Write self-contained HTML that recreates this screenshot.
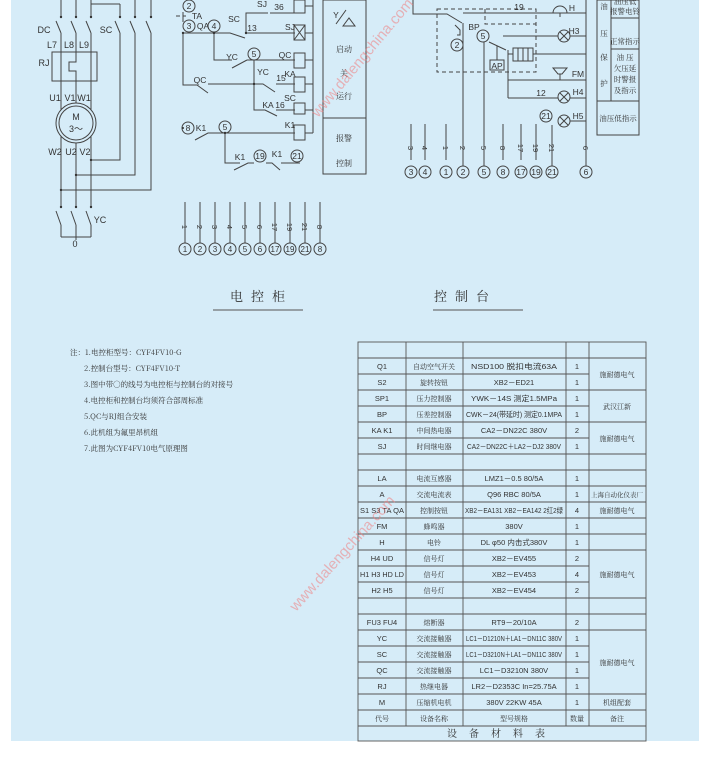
<!DOCTYPE html>
<html><head><meta charset="utf-8">
<style>
html,body{margin:0;padding:0;background:#fff;}
svg{display:block;}
text{font-family:"Liberation Sans","Noto Sans CJK SC",sans-serif;fill:#333;}
.z{font-family:"Noto Serif CJK SC","Noto Sans CJK SC",serif;}
</style></head><body>
<svg width="710" height="760" viewBox="0 0 710 760" xmlns="http://www.w3.org/2000/svg">
<rect x="0" y="0" width="710" height="760" fill="#fff"/>
<rect x="11" y="0" width="688" height="741" fill="#d6ecf8"/>
<g stroke="#444" stroke-width="1" fill="none">
<path d="M61 0V17M76 0V17M91 0V17M91 4H120M120 4V17M135 0V17M151 0V17"/>
<path d="M56 21L61 33M71 21L76 33M86 21L91 33M115 21L120 33M130 21L135 33M146 21L151 33"/>
<path d="M61 33V207M76 33V52M76 81V207M91 33V207"/>
<rect x="52" y="52" width="45" height="29"/>
<path d="M76 52V62H69V71H76V81"/>
<circle cx="76" cy="123" r="20" fill="#d6ecf8"/><circle cx="76" cy="123" r="17"/>
<path d="M120 33V160H91M135 33V175H76M151 33V190H61"/>
<path d="M56 211L61 225M71 211L76 225M86 211L91 225M61 225V237M76 225V237M91 225V237M61 237H91M76 237V240"/>
</g>
<g fill="#333"><circle cx="61" cy="17" r="1.2"/><circle cx="76" cy="17" r="1.2"/><circle cx="91" cy="17" r="1.2"/><circle cx="120" cy="17" r="1.2"/><circle cx="135" cy="17" r="1.2"/><circle cx="151" cy="17" r="1.2"/>
<circle cx="91" cy="160" r="1.2"/><circle cx="76" cy="175" r="1.2"/><circle cx="61" cy="190" r="1.2"/><circle cx="61" cy="207" r="1.2"/><circle cx="76" cy="207" r="1.2"/><circle cx="91" cy="207" r="1.2"/></g>
<g font-size="9" text-anchor="middle">
<text x="44" y="33">DC</text><text x="106" y="33">SC</text>
<text x="52" y="48">L7</text><text x="69" y="48">L8</text><text x="84" y="48">L9</text>
<text x="44" y="66">RJ</text>
<text x="55" y="101">U1</text><text x="70" y="101">V1</text><text x="84" y="101">W1</text>
<text x="76" y="120">M</text><text x="76" y="132">3～</text>
<text x="55" y="155">W2</text><text x="71" y="155">U2</text><text x="85" y="155">V2</text>
<text x="100" y="223">YC</text><text x="75" y="247">0</text>
</g>
<g stroke="#444" stroke-width="1" fill="none">
<circle cx="189" cy="6" r="6"/><circle cx="189" cy="26" r="6"/><circle cx="214" cy="26" r="6"/>
<path d="M183 12V22M176 16H180M183 16H186"/>
<path d="M183 33V85H197L208 93"/>
<path d="M183 33H214M214 33H230L245 38M246 33H295M246 33V13H258L268 13M270 13H295"/>
<path d="M214 33V60H232M247 60L232 68M247 60H295"/>
<circle cx="254" cy="54" r="6"/>
<path d="M208 84H263L275 92M276 84H295M254 60V110H265L277 116M276 110H295"/>
<circle cx="188" cy="128" r="6"/><circle cx="225" cy="127" r="6"/>
<path d="M195 140L208 133H295M225 133V163H240M234 170L248 163H254"/>
<circle cx="260" cy="156" r="6"/><circle cx="297" cy="156" r="6"/>
<path d="M266 163H272L280 170M281 163H300"/>
<rect x="294" y="0" width="11" height="13"/><rect x="294" y="25" width="11" height="15"/><path d="M294 40L305 25M294 25L305 40"/>
<rect x="294" y="53" width="11" height="15"/><rect x="294" y="77" width="11" height="15"/><rect x="294" y="103" width="11" height="11"/><rect x="294" y="125" width="11" height="15"/>
<path d="M305 6H313M305 33H313M305 60H313M305 84H313M305 110H313M305 133H313M313 0V133"/>
<rect x="323" y="0" width="43" height="174"/><path d="M323 118H366"/>
<path d="M336 24L346 10M343 26L349 18L355 26Z"/>
</g>
<g fill="#333"><circle cx="183" cy="33" r="1.2"/><circle cx="214" cy="33" r="1.2"/><circle cx="246" cy="33" r="1.2"/><circle cx="254" cy="84" r="1.2"/><circle cx="225" cy="133" r="1.2"/><circle cx="183" cy="128" r="1"/></g>
<g font-size="8.5" text-anchor="middle">
<text x="189" y="9">2</text><text x="189" y="29">3</text><text x="214" y="29">4</text><text x="197" y="19">TA</text><text x="203" y="29">QA</text>
<text x="234" y="22">SC</text><text x="252" y="31">13</text><text x="262" y="7">SJ</text><text x="279" y="10">36</text>
<text x="290" y="30">SJ</text><text x="232" y="60">YC</text><text x="254" y="57">5</text><text x="285" y="58">QC</text>
<text x="200" y="83">QC</text><text x="263" y="75">YC</text><text x="281" y="81">15</text><text x="290" y="77">KA</text>
<text x="268" y="108">KA</text><text x="280" y="108">16</text><text x="290" y="101">SC</text>
<text x="188" y="131">8</text><text x="201" y="131">K1</text><text x="225" y="130">5</text><text x="290" y="128">K1</text>
<text x="240" y="160">K1</text><text x="260" y="159">19</text><text x="277" y="157">K1</text><text x="297" y="159">21</text>
<text x="336" y="18" font-family="Liberation Serif">Y</text>
</g>
<g font-size="8" text-anchor="middle" fill="#555">
<text x="344" y="52" class="z">启动</text><text x="344" y="76" class="z">关</text><text x="344" y="99" class="z">运行</text>
<text x="344" y="141" class="z">报警</text><text x="344" y="166" class="z">控制</text>
</g>
<g stroke="#444" fill="none"><path d="M185 202V243M200 202V243M215 202V243M230 202V243M245 202V243M260 202V243M275 202V243M290 202V243M305 202V243M320 202V243"/>
<circle cx="185" cy="249" r="6"/><circle cx="200" cy="249" r="6"/><circle cx="215" cy="249" r="6"/><circle cx="230" cy="249" r="6"/><circle cx="245" cy="249" r="6"/><circle cx="260" cy="249" r="6"/><circle cx="275" cy="249" r="6"/><circle cx="290" cy="249" r="6"/><circle cx="305" cy="249" r="6"/><circle cx="320" cy="249" r="6"/></g>
<g font-size="8" text-anchor="middle">
<text x="185" y="252">1</text><text x="200" y="252">2</text><text x="215" y="252">3</text><text x="230" y="252">4</text><text x="245" y="252">5</text><text x="260" y="252">6</text><text x="275" y="252">17</text><text x="290" y="252">19</text><text x="305" y="252">21</text><text x="320" y="252">8</text>
<g font-size="7.5"><text transform="translate(182,227) rotate(90)">1</text><text transform="translate(197,227) rotate(90)">2</text><text transform="translate(212,227) rotate(90)">3</text><text transform="translate(227,227) rotate(90)">4</text><text transform="translate(242,227) rotate(90)">5</text><text transform="translate(257,227) rotate(90)">6</text><text transform="translate(272,227) rotate(90)">17</text><text transform="translate(287,227) rotate(90)">19</text><text transform="translate(302,227) rotate(90)">21</text><text transform="translate(317,227) rotate(90)">8</text></g>
</g>
<g stroke="#444" fill="none">
<path d="M413 0V14H447L462 23M463 23V166"/>
<path d="M437 9H536V72H437Z" stroke-dasharray="4,3"/>
<path d="M485 9V24H536" stroke-dasharray="4,3"/>
<path d="M455 25L460 30V35H457" />
<circle cx="457" cy="45" r="6"/>
<path d="M463 13H555M565 13H586"/>
<path d="M553 13A7 7 0 0 1 567 13Z M560 13V17"/>
<circle cx="483" cy="36" r="6"/><path d="M484 42V166"/>
<path d="M503 36H558M570 36H586"/><circle cx="564" cy="36" r="6"/><path d="M560 32L568 40M568 32L560 40"/>
<path d="M489 42L506 50M497 46V60"/><rect x="490" y="60" width="14" height="10"/>
<path d="M508 50V98"/><rect x="513" y="48" width="20" height="13"/><path d="M518 48V61M523 48V61M528 48V61M508 54H513M533 54H586"/>
<path d="M553 68H567L562 74H558Z M560 74V80M508 80H586"/>
<path d="M508 98H558M570 98H586"/><circle cx="564" cy="97" r="6"/><path d="M560 93L568 101M568 93L560 101"/>
<circle cx="564" cy="121" r="6"/><path d="M560 117L568 125M568 117L560 125M570 121H586"/>
<circle cx="546" cy="116" r="6"/><path d="M552 125V166M586 0V166"/>
<rect x="597" y="0" width="42" height="135"/><path d="M611 0V101M611 18H639M611 49H639M597 101H639"/>
<path d="M411 124V160M425 124V160M446 124V160M503 124V160M521 124V160M536 124V160"/>
<circle cx="411" cy="172" r="6"/><circle cx="425" cy="172" r="6"/><circle cx="446" cy="172" r="6"/><circle cx="463" cy="172" r="6"/><circle cx="484" cy="172" r="6"/><circle cx="503" cy="172" r="6"/><circle cx="521" cy="172" r="6"/><circle cx="536" cy="172" r="6"/><circle cx="552" cy="172" r="6"/><circle cx="586" cy="172" r="6"/>
</g>
<g font-size="8.5" text-anchor="middle">
<text x="519" y="10">19</text><text x="572" y="11">H</text><text x="457" y="48">2</text><text x="474" y="30">BP</text><text x="483" y="39">5</text>
<text x="574" y="34">H3</text><text x="497" y="69" font-family="Liberation Serif">AP</text><text x="578" y="77">FM</text>
<text x="541" y="96">12</text><text x="578" y="95">H4</text><text x="546" y="119">21</text><text x="578" y="119">H5</text>
<text x="411" y="175">3</text><text x="425" y="175">4</text><text x="446" y="175">1</text><text x="463" y="175">2</text><text x="484" y="175">5</text><text x="503" y="175">8</text><text x="521" y="175">17</text><text x="536" y="175">19</text><text x="552" y="175">21</text><text x="586" y="175">6</text>
<g font-size="7.5"><text transform="translate(408,148) rotate(90)">3</text><text transform="translate(422,148) rotate(90)">4</text><text transform="translate(443,148) rotate(90)">1</text><text transform="translate(460,148) rotate(90)">2</text><text transform="translate(481,148) rotate(90)">5</text><text transform="translate(500,148) rotate(90)">8</text><text transform="translate(518,148) rotate(90)">17</text><text transform="translate(533,148) rotate(90)">19</text><text transform="translate(549,148) rotate(90)">21</text><text transform="translate(583,148) rotate(90)">6</text></g>
</g>
<g font-size="7.5" text-anchor="middle" fill="#555">
<text x="604" y="9" class="z">油</text><text x="604" y="36" class="z">压</text><text x="604" y="60" class="z">保</text><text x="604" y="86" class="z">护</text>
<text x="625" y="4" class="z">油压低</text><text x="625" y="14" class="z">报警电铃</text>
<text x="625" y="44" class="z">正常指示</text>
<text x="625" y="60" class="z">油 压</text><text x="625" y="71" class="z">欠压延</text><text x="625" y="82" class="z">时警报</text><text x="625" y="93" class="z">及指示</text>
<text x="618" y="121" class="z">油压低指示</text>
</g>
<g font-size="13" fill="#444"><text x="230" y="301" class="z" letter-spacing="8">电控柜</text><text x="434" y="301" class="z" letter-spacing="8">控制台</text></g>
<path d="M213 310H303M433 310H523" stroke="#555"/>
<g font-size="7.5" fill="#444">
<text x="70" y="355" class="z">注：1.电控柜型号：CYF4FV10-G</text>
<text x="84" y="371" class="z">2.控制台型号：CYF4FV10-T</text>
<text x="84" y="387" class="z">3.图中带○的线号为电控柜与控制台的对接号</text>
<text x="84" y="403" class="z">4.电控柜和控制台均须符合部周标准</text>
<text x="84" y="419" class="z">5.QC与RJ组合安装</text>
<text x="84" y="435" class="z">6.此机组为氟里昂机组</text>
<text x="84" y="451" class="z">7.此图为CYF4FV10电气原理图</text>
</g>
<g stroke="#555" fill="none" stroke-width="0.9">
<rect x="358" y="342" width="288" height="399"/>
<path d="M406 342V726M463 342V726M566 342V726M589 342V726"/>
<path d="M358 358H589M358 374H589M358 390H589M358 406H589M358 422H589M358 438H589M358 454H589M358 470H589M358 486H589M358 502H589M358 518H589M358 534H589M358 550H589M358 566H589M358 582H589M358 598H589M358 614H589M358 630H589M358 646H589M358 662H589M358 678H589M358 694H589M358 710H589M358 726H646"/>
<path d="M589 358H646M589 390H646M589 422H646M589 454H646M589 470H646M589 486H646M589 502H646M589 518H646M589 534H646M589 550H646M589 598H646M589 614H646M589 630H646M589 694H646M589 710H646"/>
</g>
<g font-size="7.5" text-anchor="middle">
<text x="382" y="369">Q1</text><text x="434" y="369" class="z" font-size="7">自动空气开关</text><text x="514" y="369" textLength="86" lengthAdjust="spacingAndGlyphs">NSD100 脱扣电流63A</text><text x="577" y="369">1</text>
<text x="382" y="385">S2</text><text x="434" y="385" class="z" font-size="7">旋转按钮</text><text x="514" y="385">XB2－ED21</text><text x="577" y="385">1</text>
<text x="382" y="401">SP1</text><text x="434" y="401" class="z" font-size="7">压力控制器</text><text x="514" y="401" textLength="86" lengthAdjust="spacingAndGlyphs">YWK－14S 测定1.5MPa</text><text x="577" y="401">1</text>
<text x="382" y="417">BP</text><text x="434" y="417" class="z" font-size="7">压差控制器</text><text x="514" y="417" textLength="96" lengthAdjust="spacingAndGlyphs">CWK－24(带延时) 测定0.1MPA</text><text x="577" y="417">1</text>
<text x="382" y="433">KA  K1</text><text x="434" y="433" class="z" font-size="7">中间热电器</text><text x="514" y="433">CA2－DN22C 380V</text><text x="577" y="433">2</text>
<text x="382" y="449">SJ</text><text x="434" y="449" class="z" font-size="7">时间继电器</text><text x="514" y="449" textLength="94" lengthAdjust="spacingAndGlyphs">CA2－DN22C＋LA2－DJ2 380V</text><text x="577" y="449">1</text>
<text x="382" y="481">LA</text><text x="434" y="481" class="z" font-size="7">电流互感器</text><text x="514" y="481">LMZ1－0.5  80/5A</text><text x="577" y="481">1</text>
<text x="382" y="497">A</text><text x="434" y="497" class="z" font-size="7">交流电流表</text><text x="514" y="497">Q96 RBC 80/5A</text><text x="577" y="497">1</text>
<text x="382" y="513" textLength="44" lengthAdjust="spacingAndGlyphs">S1 S3 TA QA</text><text x="434" y="513" class="z" font-size="7">控制按钮</text><text x="514" y="513" textLength="98" lengthAdjust="spacingAndGlyphs">XB2－EA131 XB2－EA142 2红2绿</text><text x="577" y="513">4</text>
<text x="382" y="529">FM</text><text x="434" y="529" class="z" font-size="7">蜂鸣器</text><text x="514" y="529">380V</text><text x="577" y="529">1</text>
<text x="382" y="545">H</text><text x="434" y="545" class="z" font-size="7">电铃</text><text x="514" y="545">DL φ50 内击式380V</text><text x="577" y="545">1</text>
<text x="382" y="561">H4  UD</text><text x="434" y="561" class="z" font-size="7">信号灯</text><text x="514" y="561">XB2－EV455</text><text x="577" y="561">2</text>
<text x="382" y="577" textLength="44" lengthAdjust="spacingAndGlyphs">H1 H3 HD LD</text><text x="434" y="577" class="z" font-size="7">信号灯</text><text x="514" y="577">XB2－EV453</text><text x="577" y="577">4</text>
<text x="382" y="593">H2  H5</text><text x="434" y="593" class="z" font-size="7">信号灯</text><text x="514" y="593">XB2－EV454</text><text x="577" y="593">2</text>
<text x="382" y="625">FU3  FU4</text><text x="434" y="625" class="z" font-size="7">熔断器</text><text x="514" y="625">RT9－20/10A</text><text x="577" y="625">2</text>
<text x="382" y="641">YC</text><text x="434" y="641" class="z" font-size="7">交流接触器</text><text x="514" y="641" textLength="96" lengthAdjust="spacingAndGlyphs">LC1－D1210N＋LA1－DN11C 380V</text><text x="577" y="641">1</text>
<text x="382" y="657">SC</text><text x="434" y="657" class="z" font-size="7">交流接触器</text><text x="514" y="657" textLength="96" lengthAdjust="spacingAndGlyphs">LC1－D3210N＋LA1－DN11C 380V</text><text x="577" y="657">1</text>
<text x="382" y="673">QC</text><text x="434" y="673" class="z" font-size="7">交流接触器</text><text x="514" y="673">LC1－D3210N 380V</text><text x="577" y="673">1</text>
<text x="382" y="689">RJ</text><text x="434" y="689" class="z" font-size="7">热继电器</text><text x="514" y="689">LR2－D2353C In=25.75A</text><text x="577" y="689">1</text>
<text x="382" y="705">M</text><text x="434" y="705" class="z" font-size="7">压缩机电机</text><text x="514" y="705">380V 22KW 45A</text><text x="577" y="705">1</text>
<text x="382" y="721" class="z" font-size="7">代号</text><text x="434" y="721" class="z" font-size="7">设备名称</text><text x="514" y="721" class="z" font-size="7">型号规格</text><text x="577" y="721" class="z" font-size="7">数量</text><text x="617" y="721" class="z" font-size="7">备注</text>
<text x="617" y="377" class="z" font-size="7">施耐德电气</text><text x="617" y="409" class="z" font-size="7">武汉江新</text><text x="617" y="441" class="z" font-size="7">施耐德电气</text>
<text x="617" y="497" class="z" font-size="6.5">上海自动化仪表厂</text><text x="617" y="513" class="z" font-size="7">施耐德电气</text>
<text x="617" y="577" class="z" font-size="7">施耐德电气</text><text x="617" y="665" class="z" font-size="7">施耐德电气</text><text x="617" y="705" class="z" font-size="7">机组配套</text>
</g>
<text x="502" y="737" font-size="10" text-anchor="middle" class="z" letter-spacing="12" fill="#444">设备材料表</text>
<g fill="#f08080" fill-opacity="0.55" font-size="15">
<text transform="translate(318,118) rotate(-50)" style="fill:#f08080">www.dalengchina.com</text>
<text transform="translate(296,612) rotate(-48)" style="fill:#f08080">www.dalengchina.com</text>
</g>
</svg>
</body></html>
